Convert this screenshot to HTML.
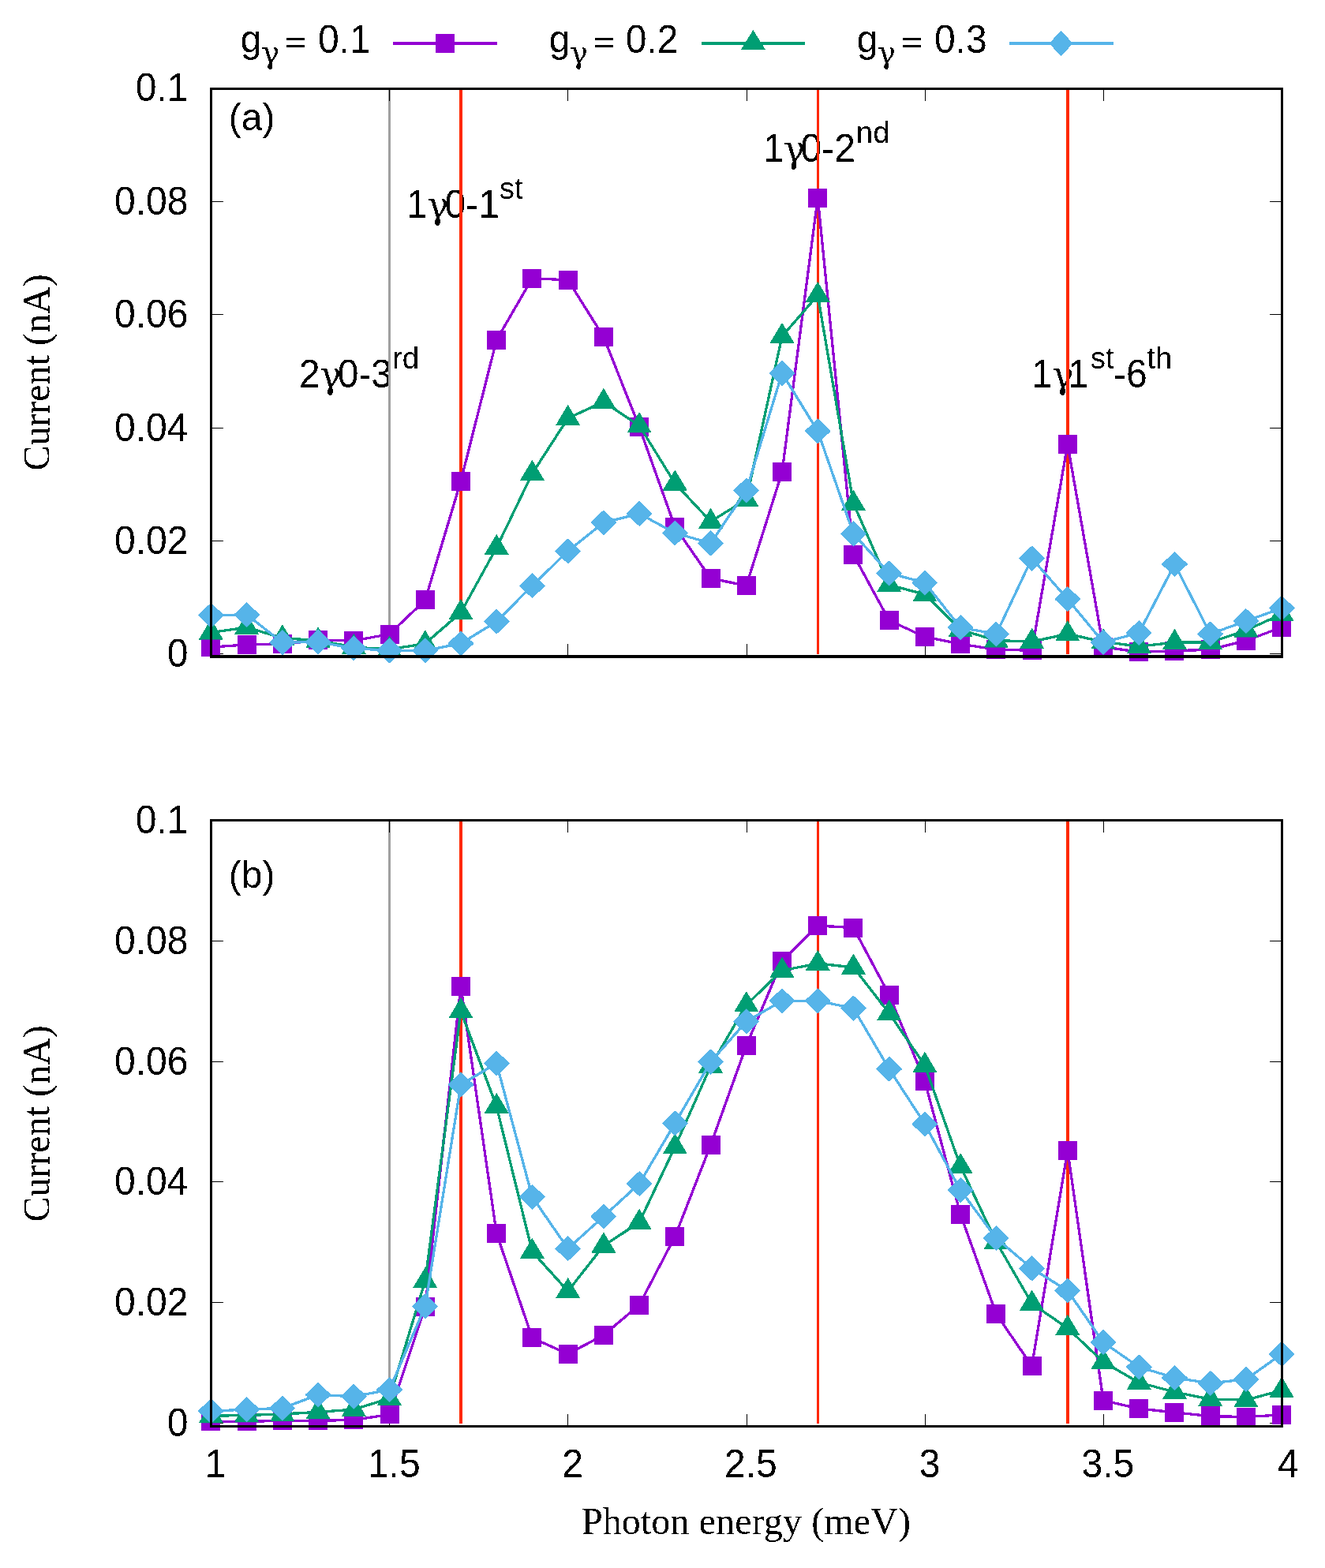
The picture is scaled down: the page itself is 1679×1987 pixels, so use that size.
<!DOCTYPE html>
<html><head><meta charset="utf-8"><title>Current vs photon energy</title>
<style>html,body{margin:0;padding:0;background:#fff;}svg{display:block;}</style>
</head><body>
<svg width="1679" height="1987" viewBox="0 0 1679 1987">
<rect width="1679" height="1987" fill="#fff"/>
<defs><filter id="bin" color-interpolation-filters="sRGB" x="0" y="0" width="1679" height="1987" filterUnits="userSpaceOnUse"><feComponentTransfer><feFuncA type="discrete" tableValues="0 1"/></feComponentTransfer></filter></defs>
<g filter="url(#bin)">
<text x="304.8" y="65.8" font-family='"Liberation Sans", sans-serif' font-size="48">g</text>
<text x="331" y="80.4" font-family='"DejaVu Serif", "Liberation Serif", serif' font-size="39">γ</text>
<text transform="translate(360.8 66.3) scale(1 0.76)" font-family='"Liberation Sans", sans-serif' font-size="48">=</text>
<text transform="translate(402.9 66.5) scale(1 1.05)" font-family='"Liberation Sans", sans-serif' font-size="48">0.1</text>
<rect x="498" y="53" width="132" height="4" fill="#9400d3"/>
<rect x="552" y="43" width="24" height="24" fill="#9400d3"/>
<text x="695.7" y="65.8" font-family='"Liberation Sans", sans-serif' font-size="48">g</text>
<text x="721.7" y="80.4" font-family='"DejaVu Serif", "Liberation Serif", serif' font-size="39">γ</text>
<text transform="translate(751.8 66.3) scale(1 0.76)" font-family='"Liberation Sans", sans-serif' font-size="48">=</text>
<text transform="translate(792.8 66.5) scale(1 1.05)" font-family='"Liberation Sans", sans-serif' font-size="48">0.2</text>
<rect x="889" y="53" width="131" height="4" fill="#009e73"/>
<polygon points="954.4,37.9 970,63 938.8,63" fill="#009e73"/>
<text x="1085.7" y="65.8" font-family='"Liberation Sans", sans-serif' font-size="48">g</text>
<text x="1111.7" y="80.4" font-family='"DejaVu Serif", "Liberation Serif", serif' font-size="39">γ</text>
<text transform="translate(1141.8 66.3) scale(1 0.76)" font-family='"Liberation Sans", sans-serif' font-size="48">=</text>
<text transform="translate(1183.9 66.5) scale(1 1.05)" font-family='"Liberation Sans", sans-serif' font-size="48">0.3</text>
<rect x="1279" y="53" width="132" height="4" fill="#56b4e9"/>
<polygon points="1344.5,38.8 1359.5,55 1344.5,71.2 1329.5,55" fill="#56b4e9"/>
<text transform="translate(515 275.7) scale(1 1.05)" font-family='"Liberation Sans", sans-serif' font-size="48">1</text>
<text x="540.9" y="275.7" font-family='"DejaVu Serif", "Liberation Serif", serif' font-size="46">γ</text>
<text transform="translate(563.5 275.7) scale(1 1.05)" font-family='"Liberation Sans", sans-serif' font-size="48">0-1</text>
<text x="632.7" y="251.9" font-family='"Liberation Sans", sans-serif' font-size="38.4">st</text>
<text transform="translate(967 205) scale(1 1.05)" font-family='"Liberation Sans", sans-serif' font-size="48">1</text>
<text x="992.8" y="205" font-family='"DejaVu Serif", "Liberation Serif", serif' font-size="46">γ</text>
<text transform="translate(1014.5 205) scale(1 1.05)" font-family='"Liberation Sans", sans-serif' font-size="48">0-2</text>
<text x="1084.8" y="180.7" font-family='"Liberation Sans", sans-serif' font-size="38.4">nd</text>
<text transform="translate(379.1 491.3) scale(1 1.05)" font-family='"Liberation Sans", sans-serif' font-size="48">2</text>
<text x="405" y="491.3" font-family='"DejaVu Serif", "Liberation Serif", serif' font-size="46">γ</text>
<text transform="translate(427.7 491.3) scale(1 1.05)" font-family='"Liberation Sans", sans-serif' font-size="48">0-3</text>
<text x="497" y="467" font-family='"Liberation Sans", sans-serif' font-size="38.4">rd</text>
<text transform="translate(1307 491) scale(1 1.05)" font-family='"Liberation Sans", sans-serif' font-size="48">1</text>
<text x="1333.1" y="491" font-family='"DejaVu Serif", "Liberation Serif", serif' font-size="46">γ</text>
<text transform="translate(1353 491) scale(1 1.05)" font-family='"Liberation Sans", sans-serif' font-size="48">1</text>
<text x="1381.8" y="467" font-family='"Liberation Sans", sans-serif' font-size="38.4">st</text>
<text transform="translate(1410.9 491) scale(1 1.05)" font-family='"Liberation Sans", sans-serif' font-size="48">-6</text>
<text x="1453.3" y="467" font-family='"Liberation Sans", sans-serif' font-size="38.4">th</text>
<text x="289.8" y="164.8" font-family='"Liberation Sans", sans-serif' font-size="48">(a)</text>
<rect x="492" y="114" width="3" height="714.6" fill="#a0a0a0"/>
<rect x="582" y="114" width="4" height="714.6" fill="#ff2800"/>
<rect x="1035" y="114" width="3" height="714.6" fill="#ff2800"/>
<rect x="1351" y="114" width="4" height="714.6" fill="#ff2800"/>
<path d="M269 255.5h14M1609 255.5h14M269 398.5h14M1609 398.5h14M269 542.5h14M1609 542.5h14M269 685.5h14M1609 685.5h14M269 828.5h14M1609 828.5h14M493.5 114v14M493.5 830v-14M719.5 114v14M719.5 830v-14M946.5 114v14M946.5 830v-14M1172.5 114v14M1172.5 830v-14M1398.5 114v14M1398.5 830v-14" stroke="#000" stroke-width="1" fill="none"/>
<polyline points="267.4,820.2 312.62,816.9 357.85,816 403.07,811 448.3,811.9 493.52,803.5 538.75,760.5 583.97,609.5 629.2,430.9 674.42,352.7 719.65,354.8 764.88,426.9 810.1,541.2 855.33,667.8 900.55,732.9 945.77,742 991,598.2 1036.22,250.7 1081.45,703.1 1126.67,786.3 1171.9,806.9 1217.12,816.2 1262.35,823.1 1307.57,824.3 1352.8,563 1398.03,820 1443.25,826.2 1488.47,825 1533.7,823 1578.93,811.7 1624.15,795" fill="none" stroke="#9400d3" stroke-width="3.3" stroke-linejoin="miter" stroke-miterlimit="2"/>
<rect x="255" y="808" width="24" height="24" fill="#9400d3"/>
<rect x="301" y="805" width="24" height="24" fill="#9400d3"/>
<rect x="346" y="804" width="24" height="24" fill="#9400d3"/>
<rect x="391" y="799" width="24" height="24" fill="#9400d3"/>
<rect x="436" y="800" width="24" height="24" fill="#9400d3"/>
<rect x="482" y="792" width="24" height="24" fill="#9400d3"/>
<rect x="527" y="748" width="24" height="24" fill="#9400d3"/>
<rect x="572" y="598" width="24" height="24" fill="#9400d3"/>
<rect x="617" y="419" width="24" height="24" fill="#9400d3"/>
<rect x="662" y="341" width="24" height="24" fill="#9400d3"/>
<rect x="708" y="343" width="24" height="24" fill="#9400d3"/>
<rect x="753" y="415" width="24" height="24" fill="#9400d3"/>
<rect x="798" y="529" width="24" height="24" fill="#9400d3"/>
<rect x="843" y="656" width="24" height="24" fill="#9400d3"/>
<rect x="889" y="721" width="24" height="24" fill="#9400d3"/>
<rect x="934" y="730" width="24" height="24" fill="#9400d3"/>
<rect x="979" y="586" width="24" height="24" fill="#9400d3"/>
<rect x="1024" y="239" width="24" height="24" fill="#9400d3"/>
<rect x="1069" y="691" width="24" height="24" fill="#9400d3"/>
<rect x="1115" y="774" width="24" height="24" fill="#9400d3"/>
<rect x="1160" y="795" width="24" height="24" fill="#9400d3"/>
<rect x="1205" y="804" width="24" height="24" fill="#9400d3"/>
<rect x="1250" y="811" width="24" height="24" fill="#9400d3"/>
<rect x="1296" y="812" width="24" height="24" fill="#9400d3"/>
<rect x="1341" y="551" width="24" height="24" fill="#9400d3"/>
<rect x="1386" y="808" width="24" height="24" fill="#9400d3"/>
<rect x="1431" y="814" width="24" height="24" fill="#9400d3"/>
<rect x="1476" y="813" width="24" height="24" fill="#9400d3"/>
<rect x="1522" y="811" width="24" height="24" fill="#9400d3"/>
<rect x="1567" y="800" width="24" height="24" fill="#9400d3"/>
<rect x="1612" y="783" width="24" height="24" fill="#9400d3"/>
<polyline points="267.4,801.6 312.62,794.9 357.85,808.6 403.07,811.6 448.3,820.1 493.52,822.8 538.75,815.6 583.97,776.3 629.2,694.1 674.42,600 719.65,530 764.88,509.1 810.1,539.3 855.33,612.5 900.55,661 945.77,632.8 991,426.2 1036.22,374.1 1081.45,638 1126.67,741.2 1171.9,753.3 1217.12,798.1 1262.35,811.6 1307.57,813.1 1352.8,803.3 1398.03,813.4 1443.25,819.1 1488.47,814.1 1533.7,814.1 1578.93,798.7 1624.15,778.2" fill="none" stroke="#009e73" stroke-width="3.3" stroke-linejoin="miter" stroke-miterlimit="2"/>
<polygon points="267.4,784.3 283,810.5 251.8,810.5" fill="#009e73"/>
<polygon points="312.62,777.6 328.23,803.8 297.02,803.8" fill="#009e73"/>
<polygon points="357.85,791.3 373.45,817.5 342.25,817.5" fill="#009e73"/>
<polygon points="403.07,794.3 418.68,820.5 387.47,820.5" fill="#009e73"/>
<polygon points="448.3,802.8 463.9,829 432.7,829" fill="#009e73"/>
<polygon points="493.52,805.5 509.12,831.7 477.92,831.7" fill="#009e73"/>
<polygon points="538.75,798.3 554.35,824.5 523.15,824.5" fill="#009e73"/>
<polygon points="583.97,759 599.57,785.2 568.37,785.2" fill="#009e73"/>
<polygon points="629.2,676.8 644.8,703 613.6,703" fill="#009e73"/>
<polygon points="674.42,582.7 690.02,608.9 658.82,608.9" fill="#009e73"/>
<polygon points="719.65,512.7 735.25,538.9 704.05,538.9" fill="#009e73"/>
<polygon points="764.88,491.8 780.48,518 749.27,518" fill="#009e73"/>
<polygon points="810.1,522 825.7,548.2 794.5,548.2" fill="#009e73"/>
<polygon points="855.33,595.2 870.93,621.4 839.73,621.4" fill="#009e73"/>
<polygon points="900.55,643.7 916.15,669.9 884.95,669.9" fill="#009e73"/>
<polygon points="945.77,615.5 961.38,641.7 930.17,641.7" fill="#009e73"/>
<polygon points="991,408.9 1006.6,435.1 975.4,435.1" fill="#009e73"/>
<polygon points="1036.22,356.8 1051.82,383 1020.62,383" fill="#009e73"/>
<polygon points="1081.45,620.7 1097.05,646.9 1065.85,646.9" fill="#009e73"/>
<polygon points="1126.67,723.9 1142.27,750.1 1111.08,750.1" fill="#009e73"/>
<polygon points="1171.9,736 1187.5,762.2 1156.3,762.2" fill="#009e73"/>
<polygon points="1217.12,780.8 1232.72,807 1201.53,807" fill="#009e73"/>
<polygon points="1262.35,794.3 1277.95,820.5 1246.75,820.5" fill="#009e73"/>
<polygon points="1307.57,795.8 1323.17,822 1291.97,822" fill="#009e73"/>
<polygon points="1352.8,786 1368.4,812.2 1337.2,812.2" fill="#009e73"/>
<polygon points="1398.03,796.1 1413.62,822.3 1382.43,822.3" fill="#009e73"/>
<polygon points="1443.25,801.8 1458.85,828 1427.65,828" fill="#009e73"/>
<polygon points="1488.47,796.8 1504.07,823 1472.88,823" fill="#009e73"/>
<polygon points="1533.7,796.8 1549.3,823 1518.1,823" fill="#009e73"/>
<polygon points="1578.93,781.4 1594.53,807.6 1563.33,807.6" fill="#009e73"/>
<polygon points="1624.15,760.9 1639.75,787.1 1608.55,787.1" fill="#009e73"/>
<polyline points="267.4,779.8 312.62,779 357.85,814.2 403.07,813.4 448.3,821.5 493.52,824.3 538.75,824.3 583.97,815.4 629.2,787.6 674.42,742.2 719.65,698.4 764.88,662.3 810.1,650.9 855.33,675.5 900.55,688.4 945.77,621.5 991,472.9 1036.22,546.3 1081.45,676.3 1126.67,726.4 1171.9,738.5 1217.12,795.2 1262.35,803.5 1307.57,707.6 1352.8,759.2 1398.03,813.8 1443.25,802 1488.47,714.9 1533.7,803.3 1578.93,787 1624.15,770.6" fill="none" stroke="#56b4e9" stroke-width="3.3" stroke-linejoin="miter" stroke-miterlimit="2"/>
<polygon points="267.4,763.7 284,779.8 267.4,795.9 250.8,779.8" fill="#56b4e9"/>
<polygon points="312.62,762.9 329.23,779 312.62,795.1 296.02,779" fill="#56b4e9"/>
<polygon points="357.85,798.1 374.45,814.2 357.85,830.3 341.25,814.2" fill="#56b4e9"/>
<polygon points="403.07,797.3 419.68,813.4 403.07,829.5 386.47,813.4" fill="#56b4e9"/>
<polygon points="448.3,805.4 464.9,821.5 448.3,837.6 431.7,821.5" fill="#56b4e9"/>
<polygon points="493.52,808.2 510.12,824.3 493.52,840.4 476.92,824.3" fill="#56b4e9"/>
<polygon points="538.75,808.2 555.35,824.3 538.75,840.4 522.15,824.3" fill="#56b4e9"/>
<polygon points="583.97,799.3 600.57,815.4 583.97,831.5 567.37,815.4" fill="#56b4e9"/>
<polygon points="629.2,771.5 645.8,787.6 629.2,803.7 612.6,787.6" fill="#56b4e9"/>
<polygon points="674.42,726.1 691.02,742.2 674.42,758.3 657.82,742.2" fill="#56b4e9"/>
<polygon points="719.65,682.3 736.25,698.4 719.65,714.5 703.05,698.4" fill="#56b4e9"/>
<polygon points="764.88,646.2 781.48,662.3 764.88,678.4 748.27,662.3" fill="#56b4e9"/>
<polygon points="810.1,634.8 826.7,650.9 810.1,667 793.5,650.9" fill="#56b4e9"/>
<polygon points="855.33,659.4 871.93,675.5 855.33,691.6 838.73,675.5" fill="#56b4e9"/>
<polygon points="900.55,672.3 917.15,688.4 900.55,704.5 883.95,688.4" fill="#56b4e9"/>
<polygon points="945.77,605.4 962.38,621.5 945.77,637.6 929.17,621.5" fill="#56b4e9"/>
<polygon points="991,456.8 1007.6,472.9 991,489 974.4,472.9" fill="#56b4e9"/>
<polygon points="1036.22,530.2 1052.82,546.3 1036.22,562.4 1019.62,546.3" fill="#56b4e9"/>
<polygon points="1081.45,660.2 1098.05,676.3 1081.45,692.4 1064.85,676.3" fill="#56b4e9"/>
<polygon points="1126.67,710.3 1143.27,726.4 1126.67,742.5 1110.08,726.4" fill="#56b4e9"/>
<polygon points="1171.9,722.4 1188.5,738.5 1171.9,754.6 1155.3,738.5" fill="#56b4e9"/>
<polygon points="1217.12,779.1 1233.72,795.2 1217.12,811.3 1200.53,795.2" fill="#56b4e9"/>
<polygon points="1262.35,787.4 1278.95,803.5 1262.35,819.6 1245.75,803.5" fill="#56b4e9"/>
<polygon points="1307.57,691.5 1324.17,707.6 1307.57,723.7 1290.97,707.6" fill="#56b4e9"/>
<polygon points="1352.8,743.1 1369.4,759.2 1352.8,775.3 1336.2,759.2" fill="#56b4e9"/>
<polygon points="1398.03,797.7 1414.62,813.8 1398.03,829.9 1381.43,813.8" fill="#56b4e9"/>
<polygon points="1443.25,785.9 1459.85,802 1443.25,818.1 1426.65,802" fill="#56b4e9"/>
<polygon points="1488.47,698.8 1505.07,714.9 1488.47,731 1471.88,714.9" fill="#56b4e9"/>
<polygon points="1533.7,787.2 1550.3,803.3 1533.7,819.4 1517.1,803.3" fill="#56b4e9"/>
<polygon points="1578.93,770.9 1595.53,787 1578.93,803.1 1562.33,787" fill="#56b4e9"/>
<polygon points="1624.15,754.5 1640.75,770.6 1624.15,786.7 1607.55,770.6" fill="#56b4e9"/>
<rect x="266" y="111" width="1360" height="3" fill="#000"/>
<rect x="266" y="830" width="1360" height="4" fill="#000"/>
<rect x="266" y="111" width="3" height="723" fill="#000"/>
<rect x="1623" y="111" width="3" height="723" fill="#000"/>
<text transform="translate(238.5 128.3) scale(1 1.05)" font-family='"Liberation Sans", sans-serif' font-size="48" text-anchor="end">0.1</text>
<text transform="translate(238.5 272.4) scale(1 1.05)" font-family='"Liberation Sans", sans-serif' font-size="48" text-anchor="end">0.08</text>
<text transform="translate(238.5 415.2) scale(1 1.05)" font-family='"Liberation Sans", sans-serif' font-size="48" text-anchor="end">0.06</text>
<text transform="translate(238.5 559.2) scale(1 1.05)" font-family='"Liberation Sans", sans-serif' font-size="48" text-anchor="end">0.04</text>
<text transform="translate(238.5 702.2) scale(1 1.05)" font-family='"Liberation Sans", sans-serif' font-size="48" text-anchor="end">0.02</text>
<text transform="translate(238.5 844.8) scale(1 1.05)" font-family='"Liberation Sans", sans-serif' font-size="48" text-anchor="end">0</text>
<text x="289.8" y="1125" font-family='"Liberation Sans", sans-serif' font-size="48">(b)</text>
<rect x="492" y="1041" width="3" height="762.6" fill="#a0a0a0"/>
<rect x="582" y="1041" width="4" height="762.6" fill="#ff2800"/>
<rect x="1035" y="1041" width="3" height="762.6" fill="#ff2800"/>
<rect x="1351" y="1041" width="4" height="762.6" fill="#ff2800"/>
<path d="M269 1192.5h14M1609 1192.5h14M269 1345.5h14M1609 1345.5h14M269 1497.5h14M1609 1497.5h14M269 1650.5h14M1609 1650.5h14M269 1803.5h14M1609 1803.5h14M493.5 1041v14M493.5 1806v-14M719.5 1041v14M719.5 1806v-14M946.5 1041v14M946.5 1806v-14M1172.5 1041v14M1172.5 1806v-14M1398.5 1041v14M1398.5 1806v-14" stroke="#000" stroke-width="1" fill="none"/>
<polyline points="267.4,1801.3 312.62,1801.3 357.85,1800.3 403.07,1800.3 448.3,1799.3 493.52,1792.4 538.75,1656.3 583.97,1250.3 629.2,1563.1 674.42,1695.4 719.65,1715.8 764.88,1691.8 810.1,1653.8 855.33,1566.9 900.55,1450.9 945.77,1324.9 991,1218 1036.22,1173 1081.45,1175.7 1126.67,1260.8 1171.9,1370.1 1217.12,1538.9 1262.35,1665 1307.57,1731 1352.8,1457.8 1398.03,1774.6 1443.25,1785 1488.47,1789.9 1533.7,1794.5 1578.93,1795.6 1624.15,1792.9" fill="none" stroke="#9400d3" stroke-width="3.3" stroke-linejoin="miter" stroke-miterlimit="2"/>
<rect x="255" y="1789" width="24" height="24" fill="#9400d3"/>
<rect x="301" y="1789" width="24" height="24" fill="#9400d3"/>
<rect x="346" y="1788" width="24" height="24" fill="#9400d3"/>
<rect x="391" y="1788" width="24" height="24" fill="#9400d3"/>
<rect x="436" y="1787" width="24" height="24" fill="#9400d3"/>
<rect x="482" y="1780" width="24" height="24" fill="#9400d3"/>
<rect x="527" y="1644" width="24" height="24" fill="#9400d3"/>
<rect x="572" y="1238" width="24" height="24" fill="#9400d3"/>
<rect x="617" y="1551" width="24" height="24" fill="#9400d3"/>
<rect x="662" y="1683" width="24" height="24" fill="#9400d3"/>
<rect x="708" y="1704" width="24" height="24" fill="#9400d3"/>
<rect x="753" y="1680" width="24" height="24" fill="#9400d3"/>
<rect x="798" y="1642" width="24" height="24" fill="#9400d3"/>
<rect x="843" y="1555" width="24" height="24" fill="#9400d3"/>
<rect x="889" y="1439" width="24" height="24" fill="#9400d3"/>
<rect x="934" y="1313" width="24" height="24" fill="#9400d3"/>
<rect x="979" y="1206" width="24" height="24" fill="#9400d3"/>
<rect x="1024" y="1161" width="24" height="24" fill="#9400d3"/>
<rect x="1069" y="1164" width="24" height="24" fill="#9400d3"/>
<rect x="1115" y="1249" width="24" height="24" fill="#9400d3"/>
<rect x="1160" y="1358" width="24" height="24" fill="#9400d3"/>
<rect x="1205" y="1527" width="24" height="24" fill="#9400d3"/>
<rect x="1250" y="1653" width="24" height="24" fill="#9400d3"/>
<rect x="1296" y="1719" width="24" height="24" fill="#9400d3"/>
<rect x="1341" y="1446" width="24" height="24" fill="#9400d3"/>
<rect x="1386" y="1763" width="24" height="24" fill="#9400d3"/>
<rect x="1431" y="1773" width="24" height="24" fill="#9400d3"/>
<rect x="1476" y="1778" width="24" height="24" fill="#9400d3"/>
<rect x="1522" y="1782" width="24" height="24" fill="#9400d3"/>
<rect x="1567" y="1784" width="24" height="24" fill="#9400d3"/>
<rect x="1612" y="1781" width="24" height="24" fill="#9400d3"/>
<polyline points="267.4,1794.4 312.62,1793.3 357.85,1792 403.07,1789.4 448.3,1786.1 493.52,1772 538.75,1623 583.97,1281.4 629.2,1402.1 674.42,1586.2 719.65,1636.2 764.88,1578.5 810.1,1549 855.33,1453.3 900.55,1350.9 945.77,1273.4 991,1229.9 1036.22,1221 1081.45,1225.8 1126.67,1284 1171.9,1350.1 1217.12,1478.2 1262.35,1573.7 1307.57,1651.9 1352.8,1683.1 1398.03,1726 1443.25,1752 1488.47,1764 1533.7,1773.1 1578.93,1774 1624.15,1761.9" fill="none" stroke="#009e73" stroke-width="3.3" stroke-linejoin="miter" stroke-miterlimit="2"/>
<polygon points="267.4,1777.1 283,1803.3 251.8,1803.3" fill="#009e73"/>
<polygon points="312.62,1776 328.23,1802.2 297.02,1802.2" fill="#009e73"/>
<polygon points="357.85,1774.7 373.45,1800.9 342.25,1800.9" fill="#009e73"/>
<polygon points="403.07,1772.1 418.68,1798.3 387.47,1798.3" fill="#009e73"/>
<polygon points="448.3,1768.8 463.9,1795 432.7,1795" fill="#009e73"/>
<polygon points="493.52,1754.7 509.12,1780.9 477.92,1780.9" fill="#009e73"/>
<polygon points="538.75,1605.7 554.35,1631.9 523.15,1631.9" fill="#009e73"/>
<polygon points="583.97,1264.1 599.57,1290.3 568.37,1290.3" fill="#009e73"/>
<polygon points="629.2,1384.8 644.8,1411 613.6,1411" fill="#009e73"/>
<polygon points="674.42,1568.9 690.02,1595.1 658.82,1595.1" fill="#009e73"/>
<polygon points="719.65,1618.9 735.25,1645.1 704.05,1645.1" fill="#009e73"/>
<polygon points="764.88,1561.2 780.48,1587.4 749.27,1587.4" fill="#009e73"/>
<polygon points="810.1,1531.7 825.7,1557.9 794.5,1557.9" fill="#009e73"/>
<polygon points="855.33,1436 870.93,1462.2 839.73,1462.2" fill="#009e73"/>
<polygon points="900.55,1333.6 916.15,1359.8 884.95,1359.8" fill="#009e73"/>
<polygon points="945.77,1256.1 961.38,1282.3 930.17,1282.3" fill="#009e73"/>
<polygon points="991,1212.6 1006.6,1238.8 975.4,1238.8" fill="#009e73"/>
<polygon points="1036.22,1203.7 1051.82,1229.9 1020.62,1229.9" fill="#009e73"/>
<polygon points="1081.45,1208.5 1097.05,1234.7 1065.85,1234.7" fill="#009e73"/>
<polygon points="1126.67,1266.7 1142.27,1292.9 1111.08,1292.9" fill="#009e73"/>
<polygon points="1171.9,1332.8 1187.5,1359 1156.3,1359" fill="#009e73"/>
<polygon points="1217.12,1460.9 1232.72,1487.1 1201.53,1487.1" fill="#009e73"/>
<polygon points="1262.35,1556.4 1277.95,1582.6 1246.75,1582.6" fill="#009e73"/>
<polygon points="1307.57,1634.6 1323.17,1660.8 1291.97,1660.8" fill="#009e73"/>
<polygon points="1352.8,1665.8 1368.4,1692 1337.2,1692" fill="#009e73"/>
<polygon points="1398.03,1708.7 1413.62,1734.9 1382.43,1734.9" fill="#009e73"/>
<polygon points="1443.25,1734.7 1458.85,1760.9 1427.65,1760.9" fill="#009e73"/>
<polygon points="1488.47,1746.7 1504.07,1772.9 1472.88,1772.9" fill="#009e73"/>
<polygon points="1533.7,1755.8 1549.3,1782 1518.1,1782" fill="#009e73"/>
<polygon points="1578.93,1756.7 1594.53,1782.9 1563.33,1782.9" fill="#009e73"/>
<polygon points="1624.15,1744.6 1639.75,1770.8 1608.55,1770.8" fill="#009e73"/>
<polyline points="267.4,1788.1 312.62,1786.1 357.85,1784.5 403.07,1767.5 448.3,1769.7 493.52,1761 538.75,1655.4 583.97,1374.4 629.2,1347.6 674.42,1516.8 719.65,1582.2 764.88,1541.5 810.1,1500 855.33,1423.4 900.55,1345.6 945.77,1294.4 991,1268.3 1036.22,1268.3 1081.45,1277.7 1126.67,1354.7 1171.9,1424.4 1217.12,1508.2 1262.35,1569.1 1307.57,1607.4 1352.8,1635.5 1398.03,1701 1443.25,1732.3 1488.47,1746 1533.7,1752.9 1578.93,1747.8 1624.15,1715.9" fill="none" stroke="#56b4e9" stroke-width="3.3" stroke-linejoin="miter" stroke-miterlimit="2"/>
<polygon points="267.4,1772 284,1788.1 267.4,1804.2 250.8,1788.1" fill="#56b4e9"/>
<polygon points="312.62,1770 329.23,1786.1 312.62,1802.2 296.02,1786.1" fill="#56b4e9"/>
<polygon points="357.85,1768.4 374.45,1784.5 357.85,1800.6 341.25,1784.5" fill="#56b4e9"/>
<polygon points="403.07,1751.4 419.68,1767.5 403.07,1783.6 386.47,1767.5" fill="#56b4e9"/>
<polygon points="448.3,1753.6 464.9,1769.7 448.3,1785.8 431.7,1769.7" fill="#56b4e9"/>
<polygon points="493.52,1744.9 510.12,1761 493.52,1777.1 476.92,1761" fill="#56b4e9"/>
<polygon points="538.75,1639.3 555.35,1655.4 538.75,1671.5 522.15,1655.4" fill="#56b4e9"/>
<polygon points="583.97,1358.3 600.57,1374.4 583.97,1390.5 567.37,1374.4" fill="#56b4e9"/>
<polygon points="629.2,1331.5 645.8,1347.6 629.2,1363.7 612.6,1347.6" fill="#56b4e9"/>
<polygon points="674.42,1500.7 691.02,1516.8 674.42,1532.9 657.82,1516.8" fill="#56b4e9"/>
<polygon points="719.65,1566.1 736.25,1582.2 719.65,1598.3 703.05,1582.2" fill="#56b4e9"/>
<polygon points="764.88,1525.4 781.48,1541.5 764.88,1557.6 748.27,1541.5" fill="#56b4e9"/>
<polygon points="810.1,1483.9 826.7,1500 810.1,1516.1 793.5,1500" fill="#56b4e9"/>
<polygon points="855.33,1407.3 871.93,1423.4 855.33,1439.5 838.73,1423.4" fill="#56b4e9"/>
<polygon points="900.55,1329.5 917.15,1345.6 900.55,1361.7 883.95,1345.6" fill="#56b4e9"/>
<polygon points="945.77,1278.3 962.38,1294.4 945.77,1310.5 929.17,1294.4" fill="#56b4e9"/>
<polygon points="991,1252.2 1007.6,1268.3 991,1284.4 974.4,1268.3" fill="#56b4e9"/>
<polygon points="1036.22,1252.2 1052.82,1268.3 1036.22,1284.4 1019.62,1268.3" fill="#56b4e9"/>
<polygon points="1081.45,1261.6 1098.05,1277.7 1081.45,1293.8 1064.85,1277.7" fill="#56b4e9"/>
<polygon points="1126.67,1338.6 1143.27,1354.7 1126.67,1370.8 1110.08,1354.7" fill="#56b4e9"/>
<polygon points="1171.9,1408.3 1188.5,1424.4 1171.9,1440.5 1155.3,1424.4" fill="#56b4e9"/>
<polygon points="1217.12,1492.1 1233.72,1508.2 1217.12,1524.3 1200.53,1508.2" fill="#56b4e9"/>
<polygon points="1262.35,1553 1278.95,1569.1 1262.35,1585.2 1245.75,1569.1" fill="#56b4e9"/>
<polygon points="1307.57,1591.3 1324.17,1607.4 1307.57,1623.5 1290.97,1607.4" fill="#56b4e9"/>
<polygon points="1352.8,1619.4 1369.4,1635.5 1352.8,1651.6 1336.2,1635.5" fill="#56b4e9"/>
<polygon points="1398.03,1684.9 1414.62,1701 1398.03,1717.1 1381.43,1701" fill="#56b4e9"/>
<polygon points="1443.25,1716.2 1459.85,1732.3 1443.25,1748.4 1426.65,1732.3" fill="#56b4e9"/>
<polygon points="1488.47,1729.9 1505.07,1746 1488.47,1762.1 1471.88,1746" fill="#56b4e9"/>
<polygon points="1533.7,1736.8 1550.3,1752.9 1533.7,1769 1517.1,1752.9" fill="#56b4e9"/>
<polygon points="1578.93,1731.7 1595.53,1747.8 1578.93,1763.9 1562.33,1747.8" fill="#56b4e9"/>
<polygon points="1624.15,1699.8 1640.75,1715.9 1624.15,1732 1607.55,1715.9" fill="#56b4e9"/>
<rect x="266" y="1038" width="1360" height="3" fill="#000"/>
<rect x="266" y="1806" width="1360" height="3" fill="#000"/>
<rect x="266" y="1038" width="3" height="771" fill="#000"/>
<rect x="1623" y="1038" width="3" height="771" fill="#000"/>
<text transform="translate(238.5 1055.6) scale(1 1.05)" font-family='"Liberation Sans", sans-serif' font-size="48" text-anchor="end">0.1</text>
<text transform="translate(238.5 1209.3) scale(1 1.05)" font-family='"Liberation Sans", sans-serif' font-size="48" text-anchor="end">0.08</text>
<text transform="translate(238.5 1361.9) scale(1 1.05)" font-family='"Liberation Sans", sans-serif' font-size="48" text-anchor="end">0.06</text>
<text transform="translate(238.5 1514.4) scale(1 1.05)" font-family='"Liberation Sans", sans-serif' font-size="48" text-anchor="end">0.04</text>
<text transform="translate(238.5 1667.1) scale(1 1.05)" font-family='"Liberation Sans", sans-serif' font-size="48" text-anchor="end">0.02</text>
<text transform="translate(238.5 1820.2) scale(1 1.05)" font-family='"Liberation Sans", sans-serif' font-size="48" text-anchor="end">0</text>
<text transform="translate(259.7 1872) scale(1 1.05)" font-family='"Liberation Sans", sans-serif' font-size="48">1</text>
<text transform="translate(465.9 1872) scale(1 1.05)" font-family='"Liberation Sans", sans-serif' font-size="48">1.5</text>
<text transform="translate(712.3 1872) scale(1 1.05)" font-family='"Liberation Sans", sans-serif' font-size="48">2</text>
<text transform="translate(918.1 1872) scale(1 1.05)" font-family='"Liberation Sans", sans-serif' font-size="48">2.5</text>
<text transform="translate(1164.7 1872) scale(1 1.05)" font-family='"Liberation Sans", sans-serif' font-size="48">3</text>
<text transform="translate(1370.5 1872) scale(1 1.05)" font-family='"Liberation Sans", sans-serif' font-size="48">3.5</text>
<text transform="translate(1619 1872) scale(1 1.05)" font-family='"Liberation Sans", sans-serif' font-size="48">4</text>
<text x="736.9" y="1944" font-family='"Liberation Serif", serif' font-size="48" textLength="417" lengthAdjust="spacing">Photon energy (meV)</text>
<text transform="translate(62.5,472) rotate(-90)" text-anchor="middle" font-family='"Liberation Serif", serif' font-size="48">Current (nA)</text>
<text transform="translate(62.5,1424) rotate(-90)" text-anchor="middle" font-family='"Liberation Serif", serif' font-size="48">Current (nA)</text>
</g>
</svg>
</body></html>
